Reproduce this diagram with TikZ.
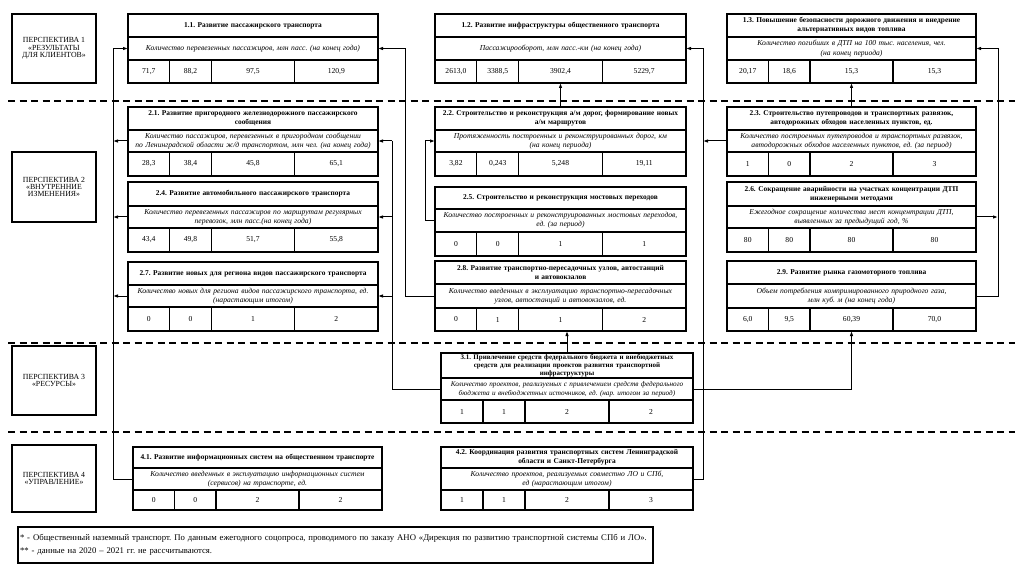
\documentclass[tikz,border=0pt]{standalone}
\usepackage{fontspec}
\setmainfont{Liberation Serif}
\usetikzlibrary{arrows.meta}
\frenchspacing

% geometry "x1/x2/y0/y1/y2/y3" and values "a/b/c/d" of one indicator card
\def\kpigeom#1/#2/#3/#4/#5/#6\relax{\def\kxa{#1}\def\kxb{#2}\def\kya{#3}\def\kyb{#4}\def\kyc{#5}\def\kyd{#6}}
\def\kpivals#1/#2/#3/#4\relax{\def\kva{#1}\def\kvb{#2}\def\kvc{#3}\def\kvd{#4}}

% \kpibox{name}{geometry}{title}{indicator}{values}
\newcommand\kpibox[5]{%
  \kpigeom#2\relax\kpivals#5\relax
  \pgfmathsetmacro\kw{\kxb-\kxa}%
  \pgfmathsetmacro\ktw{\kw-3}%
  \pgfmathsetmacro\kc{(\kxa+\kxb)/2}%
  \pgfmathsetmacro\kha{\kyb-\kya}%
  \pgfmathsetmacro\khb{\kyc-\kyb}%
  \pgfmathsetmacro\khc{\kyd-\kyc}%
  \pgfmathsetmacro\ku{\kw/6}%
  \pgfmathsetmacro\kuu{\kw/3}%
  \node[cell,titletext,minimum width=\kw pt,minimum height=\kha pt,text width=\ktw pt] (#1t) at (\kxa,\kya) {#3};
  \node[cell,metrictext,minimum width=\kw pt,minimum height=\khb pt,text width=\ktw pt] (#1m) at (\kxa,\kyb) {#4};
  \node[cell,valtext,minimum width=\ku pt,minimum height=\khc pt] (#1a) at (\kxa,\kyc) {\kva};
  \node[cell,valtext,minimum width=\ku pt,minimum height=\khc pt] (#1b) at (#1a.north east) {\kvb};
  \node[cell,valtext,minimum width=\kuu pt,minimum height=\khc pt] (#1c) at (#1b.north east) {\kvc};
  \node[cell,valtext,minimum width=\kuu pt,minimum height=\khc pt] (#1d) at (#1c.north east) {\kvd};
  \coordinate (#1n) at (\kc,\kya);
  \coordinate (#1s) at (\kc,\kyd);
}

\begin{document}
\begin{tikzpicture}[x=1pt,y=-1pt,
  cell/.style={draw=black,line width=1.2pt,fill=white,anchor=north west,
    inner xsep=1pt,inner ysep=0.5pt,outer sep=0pt,align=center},
  titletext/.style={font=\bfseries\fontsize{7.4}{9}\selectfont},
  metrictext/.style={font=\itshape\fontsize{7.6}{9.2}\selectfont},
  valtext/.style={font=\fontsize{7.6}{9}\selectfont},
  plabel/.style={draw=black,line width=1.2pt,anchor=north west,minimum width=84pt,
    inner sep=1pt,outer sep=0pt,align=center,font=\fontsize{7.8}{7.3}\selectfont},
  sep/.style={line width=1.1pt,dash pattern=on 7pt off 4.5pt},
  conn/.style={line width=1pt},
  arr/.style={conn,-{Latex[length=5pt,width=3.6pt]}}]

\fill[white] (0,0) rectangle (1022,577);
\useasboundingbox (0,0) rectangle (1022,577);

% horizontal separators between the perspectives
\draw[sep] (8,101) -- (1015,101);
\draw[sep] (8,343) -- (1015,343);
\draw[sep] (8,432) -- (1015,432);

% perspective labels
\node[plabel,minimum height=69pt] (p1) at (12,14) {ПЕРСПЕКТИВА 1\\«РЕЗУЛЬТАТЫ\\ДЛЯ КЛИЕНТОВ»};
\node[plabel,minimum height=70pt] (p2) at (12,152) {ПЕРСПЕКТИВА 2\\«ВНУТРЕННИЕ\\ИЗМЕНЕНИЯ»};
\node[plabel,minimum height=69pt] (p3) at (12,346) {ПЕРСПЕКТИВА 3\\«РЕСУРСЫ»};
\node[plabel,minimum height=67pt] (p4) at (12,445) {ПЕРСПЕКТИВА 4\\«УПРАВЛЕНИЕ»};

% perspective 1
\kpibox{k11}{128/378/14/37/60/83}{1.1. Развитие пассажирского транспорта}
  {Количество перевезенных пассажиров, млн пасс. (на конец года)}{71,7/88,2/97,5/120,9}
\kpibox{k12}{435/686/14/37/60/83}{1.2. Развитие инфраструктуры общественного транспорта}
  {Пассажирооборот, млн пасс.-км (на конец года)}{2613,0/3388,5/3902,4/5229,7}
\kpibox{k13}{727/976/14/37/60/83}{1.3. Повышение безопасности дорожного движения и внедрение\\альтернативных видов топлива}
  {Количество погибших в ДТП на 100 тыс. населения, чел.\\(на конец периода)}{20,17/18,6/15,3/15,3}

% perspective 2
\kpibox{k21}{128/378/107/130/152/176}{2.1. Развитие пригородного железнодорожного пассажирского\\сообщения}
  {Количество пассажиров, перевезенных в пригородном сообщении\\по Ленинградской области ж/д транспортом, млн чел. (на конец года)}{28,3/38,4/45,8/65,1}
\kpibox{k22}{435/686/107/130/152/176}{2.2. Строительство и реконструкция а/м дорог, формирование новых\\а/м маршрутов}
  {Протяженность построенных и реконструированных дорог, км\\(на конец периода)}{3,82/0,243/5,248/19,11}
\kpibox{k23}{727/976/107/130/152/176}{2.3. Строительство путепроводов и транспортных развязок,\\автодорожных обходов населенных пунктов, ед.}
  {Количество построенных путепроводов и транспортных развязок,\\автодорожных обходов населенных пунктов, ед. (за период)}{1/0/2/3}
\kpibox{k24}{128/378/182/206/228/252}{2.4. Развитие автомобильного пассажирского транспорта}
  {Количество перевезенных пассажиров по маршрутам регулярных\\перевозок, млн пасс.(на конец года)}{43,4/49,8/51,7/55,8}
\kpibox{k25}{435/686/187/209/232/256}{2.5. Строительство и реконструкция мостовых переходов}
  {Количество построенных и реконструированных мостовых переходов,\\ед. (за период)}{0/0/1/1}
\kpibox{k26}{727/976/182/206/228/252}{2.6. Сокращение аварийности на участках концентрации ДТП\\инженерными методами}
  {Ежегодное сокращение количества мест концентрации ДТП,\\выявленных за предыдущий год, \%}{80/80/80/80}
\kpibox{k27}{128/378/262/285/307/331}{2.7. Развитие новых для региона видов пассажирского транспорта}
  {Количество новых для региона видов пассажирского транспорта, ед.\\(нарастающим итогом)}{0/0/1/2}
\kpibox{k28}{435/686/261/284/308/331}{2.8. Развитие транспортно-пересадочных узлов, автостанций\\и автовокзалов}
  {Количество введенных в эксплуатацию транспортно-пересадочных\\узлов, автостанций и автовокзалов, ед.}{0/1/1/2}
\kpibox{k29}{727/976/261/284/308/331}{2.9. Развитие рынка газомоторного топлива}
  {Объем потребления компримированного природного газа,\\млн куб. м (на конец года)}{6,0/9,5/60,39/70,0}

% perspective 3
\begin{scope}[titletext/.style={font=\bfseries\fontsize{7}{7.8}\selectfont},
              metrictext/.style={font=\itshape\fontsize{7.2}{8.6}\selectfont}]
\kpibox{k31}{441/693/353/378/400/423}{3.1. Привлечение средств федерального бюджета и внебюджетных\\средств для реализации проектов развития транспортной\\инфраструктуры}
  {Количество проектов, реализуемых с привлечением средств федерального\\бюджета и внебюджетных источников, ед. (нар. итогом за период)}{1/1/2/2}
\end{scope}

% perspective 4
\kpibox{k41}{133/382/447/468/490/510}{4.1. Развитие информационных систем на общественном транспорте}
  {Количество введенных в эксплуатацию информационных систем\\(сервисов) на транспорте, ед.}{0/0/2/2}
\kpibox{k42}{441/693/447/468/490/510}{4.2. Координация развития транспортных систем Ленинградской\\области и Санкт-Петербурга}
  {Количество проектов, реализуемых совместно ЛО и СПб,\\ед (нарастающим итогом)}{1/1/2/3}

% vertical collector lines
\coordinate (busA) at (113,0);
\coordinate (busB) at (392,0);
\coordinate (busC) at (405,0);
\coordinate (busD) at (425,0);
\coordinate (busE) at (703,0);
\coordinate (busF) at (998,0);

% links between the indicators
\draw[arr] (k41m.west) -- (k41m.west -| busA) |- (k11m.west);
\draw[arr] (k21m.west) -- (k21m.west -| busA);
\draw[arr] (k24m.west) -- (k24m.west -| busA);
\draw[arr] (k27m.west) -- (k27m.west -| busA);

\draw[conn] (k31m.west) -| (k21m.east -| busB);
\draw[arr] (k21m.east -| busB) -- (k21m.east);
\draw[arr] (k24m.east -| busB) -- (k24m.east);
\draw[arr] (k27m.east -| busB) -- (k27m.east);

\draw[arr] (k28m.west) -| (k11m.east -| busC) -- (k11m.east);
\draw[arr] (k25m.west) -| (k22m.west -| busD) -- (k22m.west);
\draw[arr] (k22n) -- (k12s);
\draw[arr] (k31n) -- (k31n |- k28s);

\draw[arr] (k42m.east) -| (k12m.east -| busE) -- (k12m.east);
\draw[arr] (k23m.west) -- (k23m.west -| busE);
\draw[arr] (k31m.east) -| (k29s);
\draw[arr] (k23n) -- (k13s);

\draw[arr] (k29m.east) -| (k13m.east -| busF) -- (k13m.east);
\draw[arr] (k26m.east) -- (k26m.east -| busF);

% notes
\node[draw=black,line width=1.3pt,anchor=north west,minimum width=635pt,minimum height=36pt,
  text width=631pt,align=left,inner sep=2pt,outer sep=0pt,font=\fontsize{8.7}{13.5}\selectfont]
  (notes) at (18,527) {* - Общественный наземный транспорт. По данным ежегодного соцопроса, проводимого по заказу АНО «Дирекция по развитию транспортной системы СПб и ЛО».\\{}** - данные на 2020 – 2021 гг. не рассчитываются.};
\end{tikzpicture}
\end{document}
